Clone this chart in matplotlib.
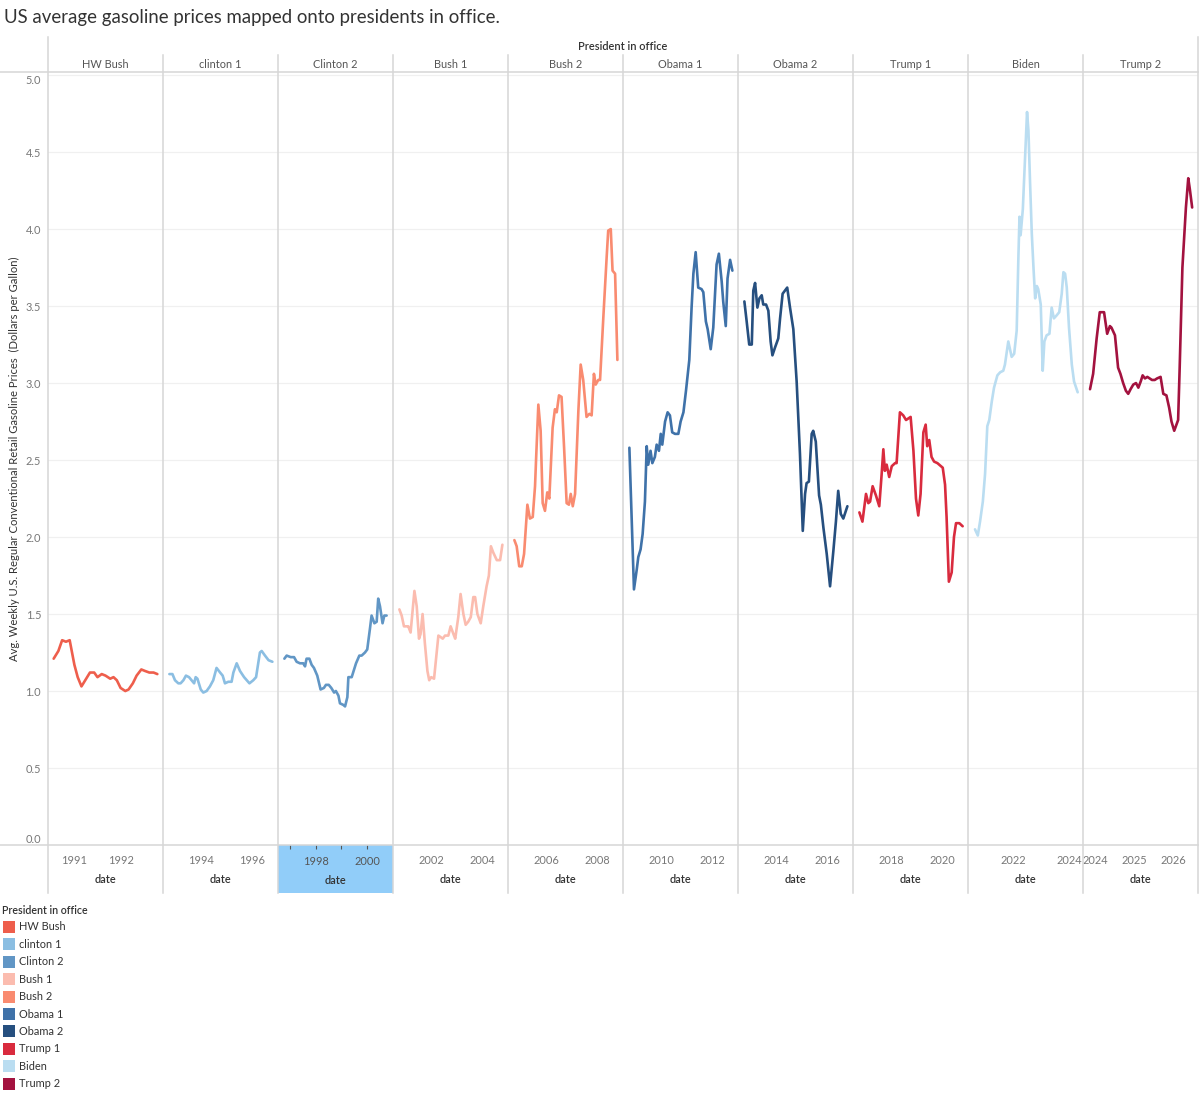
import numpy as np
import matplotlib
matplotlib.use("Agg")
import matplotlib.pyplot as plt
from matplotlib.lines import Line2D
from matplotlib.patches import Rectangle

plt.rcParams['font.family'] = ['Lato', 'DejaVu Sans']

title = "US average gasoline prices mapped onto presidents in office."
y_title = "Avg. Weekly U.S. Regular Conventional Retail Gasoline Prices  (Dollars per Gallon)"
header_title = "President in office"
x_label = "date"

presidents = ["HW Bush", "clinton 1", "Clinton 2", "Bush 1", "Bush 2",
              "Obama 1", "Obama 2", "Trump 1", "Biden", "Trump 2"]
colors = ["#EE5E4C", "#8BBEE2", "#6196C5", "#FBBCAF", "#F98B70",
          "#3F72A9", "#264F7F", "#D92B3E", "#BADDF1", "#A3123F"]

hw_bush_dates = [1990.57, 1990.67, 1990.75, 1990.83, 1990.91, 1991.01, 1991.08, 1991.16, 1991.26,
                 1991.34, 1991.43, 1991.50, 1991.59, 1991.67, 1991.77, 1991.84, 1991.91, 1991.99,
                 1992.09, 1992.16, 1992.25, 1992.33, 1992.43, 1992.51, 1992.60, 1992.69, 1992.77]
hw_bush_prices = [1.21, 1.26, 1.33, 1.32, 1.33, 1.17, 1.09, 1.03, 1.08, 1.12, 1.12, 1.09, 1.11, 1.10,
                  1.08, 1.09, 1.07, 1.02, 1.00, 1.01, 1.05, 1.10, 1.14, 1.13, 1.12, 1.12, 1.11]

clinton1_dates = [1992.76, 1992.88, 1992.98, 1993.11, 1993.20, 1993.31, 1993.41, 1993.53, 1993.63,
                  1993.73, 1993.79, 1993.86, 1993.99, 1994.09, 1994.22, 1994.35, 1994.48, 1994.61,
                  1994.75, 1994.85, 1994.94, 1995.07, 1995.20, 1995.27, 1995.40, 1995.53, 1995.69,
                  1995.90, 1996.05, 1996.16, 1996.31, 1996.38, 1996.51, 1996.65, 1996.80]
clinton1_prices = [1.11, 1.11, 1.07, 1.05, 1.05, 1.07, 1.10, 1.09, 1.07, 1.05, 1.09, 1.08, 1.01, 0.99,
                   1.00, 1.03, 1.07, 1.15, 1.12, 1.10, 1.05, 1.06, 1.06, 1.12, 1.18, 1.13, 1.09, 1.05,
                   1.07, 1.09, 1.25, 1.26, 1.23, 1.20, 1.19]

clinton2_dates = [1996.76, 1996.85, 1997.01, 1997.14, 1997.24, 1997.37, 1997.50, 1997.57, 1997.63,
                  1997.74, 1997.83, 1997.92, 1998.05, 1998.18, 1998.31, 1998.39, 1998.50, 1998.60,
                  1998.71, 1998.78, 1998.88, 1998.94, 1999.07, 1999.14, 1999.23, 1999.27, 1999.40,
                  1999.57, 1999.70, 1999.79, 1999.92, 2000.01, 2000.12, 2000.18, 2000.29, 2000.38,
                  2000.44, 2000.51, 2000.61, 2000.68, 2000.77]
clinton2_prices = [1.21, 1.23, 1.22, 1.22, 1.19, 1.18, 1.18, 1.16, 1.21, 1.21, 1.17, 1.15, 1.10, 1.01,
                   1.02, 1.04, 1.04, 1.02, 0.99, 1.00, 0.97, 0.92, 0.91, 0.90, 0.96, 1.09, 1.09, 1.18,
                   1.23, 1.23, 1.25, 1.27, 1.41, 1.49, 1.44, 1.45, 1.60, 1.55, 1.44, 1.49, 1.49]

bush1_dates = [2000.76, 2000.85, 2000.94, 2001.05, 2001.11, 2001.20, 2001.35, 2001.44, 2001.53,
               2001.59, 2001.67, 2001.76, 2001.86, 2001.93, 2002.01, 2002.12, 2002.29, 2002.38,
               2002.46, 2002.55, 2002.68, 2002.77, 2002.88, 2002.95, 2003.07, 2003.16, 2003.27,
               2003.36, 2003.46, 2003.56, 2003.66, 2003.73, 2003.82, 2003.95, 2004.05, 2004.18,
               2004.27, 2004.35, 2004.44, 2004.58, 2004.71, 2004.80]
bush1_prices = [1.53, 1.49, 1.42, 1.42, 1.42, 1.38, 1.65, 1.55, 1.34, 1.37, 1.50, 1.31, 1.13, 1.07,
                1.09, 1.08, 1.36, 1.35, 1.34, 1.36, 1.36, 1.42, 1.37, 1.34, 1.48, 1.63, 1.50, 1.43,
                1.45, 1.48, 1.61, 1.61, 1.50, 1.44, 1.55, 1.68, 1.75, 1.94, 1.90, 1.85, 1.85, 1.95]

bush2_dates = [2004.76, 2004.85, 2004.95, 2005.05, 2005.14, 2005.27, 2005.37, 2005.48, 2005.57,
               2005.61, 2005.70, 2005.79, 2005.87, 2005.96, 2006.05, 2006.13, 2006.26, 2006.35,
               2006.42, 2006.51, 2006.61, 2006.71, 2006.81, 2006.90, 2006.97, 2007.05, 2007.14,
               2007.27, 2007.36, 2007.46, 2007.59, 2007.70, 2007.79, 2007.88, 2007.95, 2008.05,
               2008.12, 2008.25, 2008.38, 2008.44, 2008.54, 2008.61, 2008.71, 2008.80]
bush2_prices = [1.98, 1.94, 1.81, 1.81, 1.89, 2.21, 2.12, 2.13, 2.33, 2.50, 2.86, 2.69, 2.22, 2.17,
                2.29, 2.25, 2.71, 2.83, 2.81, 2.92, 2.91, 2.58, 2.22, 2.21, 2.28, 2.20, 2.28, 2.82,
                3.12, 3.02, 2.78, 2.80, 2.79, 3.06, 2.99, 3.02, 3.02, 3.43, 3.82, 3.99, 4.00, 3.73,
                3.71, 3.15]

obama1_dates = [2008.76, 2008.94, 2009.05, 2009.11, 2009.20, 2009.28, 2009.37, 2009.44, 2009.50,
                2009.59, 2009.66, 2009.76, 2009.83, 2009.92, 2009.99, 2010.05, 2010.16, 2010.26,
                2010.35, 2010.44, 2010.55, 2010.68, 2010.77, 2010.88, 2010.98, 2011.11, 2011.20,
                2011.27, 2011.36, 2011.46, 2011.59, 2011.66, 2011.76, 2011.83, 2011.95, 2012.05,
                2012.18, 2012.27, 2012.38, 2012.44, 2012.54, 2012.61, 2012.71, 2012.80]
obama1_prices = [2.58, 1.66, 1.79, 1.87, 1.92, 2.02, 2.23, 2.59, 2.47, 2.56, 2.48, 2.52, 2.60, 2.56,
                 2.67, 2.60, 2.75, 2.81, 2.79, 2.68, 2.67, 2.67, 2.75, 2.81, 2.95, 3.15, 3.49, 3.71,
                 3.85, 3.62, 3.61, 3.59, 3.40, 3.35, 3.22, 3.36, 3.77, 3.84, 3.66, 3.53, 3.37, 3.68,
                 3.80, 3.73]

obama2_dates = [2012.76, 2012.85, 2012.95, 2013.05, 2013.11, 2013.18, 2013.27, 2013.35, 2013.44,
                2013.50, 2013.61, 2013.70, 2013.79, 2013.86, 2013.96, 2014.09, 2014.16, 2014.26,
                2014.35, 2014.44, 2014.55, 2014.68, 2014.81, 2014.94, 2015.05, 2015.14, 2015.20,
                2015.29, 2015.40, 2015.46, 2015.56, 2015.69, 2015.76, 2015.86, 2015.99, 2016.12,
                2016.25, 2016.35, 2016.44, 2016.54, 2016.64, 2016.80]
obama2_prices = [3.53, 3.40, 3.25, 3.25, 3.60, 3.65, 3.49, 3.55, 3.57, 3.51, 3.51, 3.47, 3.27, 3.18,
                 3.23, 3.29, 3.42, 3.58, 3.60, 3.62, 3.49, 3.35, 3.01, 2.54, 2.04, 2.28, 2.35, 2.36,
                 2.67, 2.69, 2.62, 2.27, 2.21, 2.06, 1.89, 1.68, 1.91, 2.10, 2.30, 2.15, 2.12, 2.20]

trump1_dates = [2016.76, 2016.88, 2017.02, 2017.11, 2017.18, 2017.28, 2017.41, 2017.54, 2017.63,
                2017.70, 2017.76, 2017.83, 2017.93, 2018.03, 2018.16, 2018.22, 2018.35, 2018.48,
                2018.59, 2018.77, 2018.88, 2018.98, 2019.07, 2019.16, 2019.27, 2019.36, 2019.42,
                2019.50, 2019.59, 2019.69, 2019.82, 2020.03, 2020.12, 2020.18, 2020.27, 2020.38,
                2020.47, 2020.55, 2020.68, 2020.81]
trump1_prices = [2.16, 2.10, 2.28, 2.22, 2.23, 2.33, 2.27, 2.20, 2.40, 2.57, 2.43, 2.47, 2.39, 2.46,
                 2.48, 2.48, 2.81, 2.79, 2.76, 2.78, 2.56, 2.25, 2.14, 2.28, 2.68, 2.73, 2.59, 2.63,
                 2.52, 2.49, 2.48, 2.45, 2.34, 2.13, 1.71, 1.77, 2.00, 2.09, 2.09, 2.07]

biden_dates = [2020.64, 2020.74, 2020.82, 2020.92, 2021.00, 2021.08, 2021.15, 2021.24, 2021.32,
               2021.44, 2021.54, 2021.65, 2021.71, 2021.83, 2021.89, 2021.95, 2022.04, 2022.13,
               2022.19, 2022.23, 2022.27, 2022.35, 2022.39, 2022.46, 2022.50, 2022.55, 2022.61,
               2022.67, 2022.73, 2022.79, 2022.85, 2022.90, 2022.99, 2023.06, 2023.12, 2023.20,
               2023.30, 2023.38, 2023.46, 2023.56, 2023.65, 2023.74, 2023.80, 2023.86, 2023.92,
               2024.00, 2024.10, 2024.18, 2024.31]
biden_prices = [2.05, 2.01, 2.10, 2.23, 2.41, 2.72, 2.76, 2.88, 2.97, 3.05, 3.07, 3.08, 3.12, 3.27,
                3.22, 3.17, 3.19, 3.34, 3.81, 4.08, 3.96, 4.13, 4.30, 4.59, 4.76, 4.64, 4.29, 3.97,
                3.75, 3.55, 3.63, 3.61, 3.51, 3.08, 3.27, 3.31, 3.32, 3.49, 3.42, 3.44, 3.46, 3.58,
                3.72, 3.71, 3.62, 3.36, 3.12, 3.01, 2.94]

trump2_dates = [2023.86, 2023.94, 2024.03, 2024.11, 2024.22, 2024.30, 2024.37, 2024.41, 2024.50,
                2024.58, 2024.64, 2024.71, 2024.78, 2024.84, 2024.90, 2024.97, 2025.04, 2025.10,
                2025.16, 2025.21, 2025.27, 2025.33, 2025.39, 2025.45, 2025.52, 2025.58, 2025.67,
                2025.74, 2025.82, 2025.89, 2025.95, 2026.02, 2026.12, 2026.16, 2026.23, 2026.32,
                2026.38, 2026.42, 2026.48]
trump2_prices = [2.96, 3.06, 3.29, 3.46, 3.46, 3.32, 3.37, 3.36, 3.31, 3.10, 3.06, 3.00, 2.95, 2.93,
                 2.96, 2.99, 3.00, 2.97, 3.01, 3.05, 3.03, 3.04, 3.03, 3.02, 3.02, 3.03, 3.04, 2.93,
                 2.92, 2.84, 2.75, 2.69, 2.76, 3.10, 3.75, 4.14, 4.33, 4.26, 4.14]

all_dates = [hw_bush_dates, clinton1_dates, clinton2_dates, bush1_dates, bush2_dates,
             obama1_dates, obama2_dates, trump1_dates, biden_dates, trump2_dates]
all_prices = [hw_bush_prices, clinton1_prices, clinton2_prices, bush1_prices, bush2_prices,
              obama1_prices, obama2_prices, trump1_prices, biden_prices, trump2_prices]

# per-panel axis ranges (independent date axes) and tick years
x_ranges = [(1990.45, 1992.89), (1992.51, 1997.02), (1996.51, 2001.02), (2000.51, 2005.02),
            (2004.51, 2009.02), (2008.51, 2013.02), (2012.51, 2017.02), (2016.51, 2021.02),
            (2020.39, 2024.50), (2023.68, 2026.63)]
x_ticks = [[1991, 1992], [1994, 1996], [1998, 2000], [2002, 2004], [2006, 2008],
           [2010, 2012], [2014, 2016], [2018, 2020], [2022, 2024], [2024, 2025, 2026]]
y_ticks = [0.0, 0.5, 1.0, 1.5, 2.0, 2.5, 3.0, 3.5, 4.0, 4.5, 5.0]
highlight_panel = 2

W, H = 1200, 1093
fig = plt.figure(figsize=(W / 100, H / 100), dpi=100)
fig.patch.set_facecolor("white")


def fx(x):
    return x / W


def fy(y):
    return 1 - y / H


LEFT, PW, TOP, BOT = 48, 115, 72, 845
LINE = "#d6d6d6"
TXT = "#333333"
TICK = "#777777"
FS = 7.9

axes = []
for i, name in enumerate(presidents):
    x0 = LEFT + i * PW
    ax = fig.add_axes([fx(x0), fy(BOT), PW / W, (BOT - TOP) / H])
    ax.plot(all_dates[i], all_prices[i], color=colors[i], lw=1.9,
            solid_joinstyle="round", solid_capstyle="round", zorder=3)
    ax.set_xlim(*x_ranges[i])
    ax.set_ylim(0, 5.02)
    for s in ax.spines.values():
        s.set_visible(False)
    ax.set_yticks(y_ticks)
    ax.yaxis.grid(True, color="#f0f0f0", lw=0.9, zorder=0)
    ax.set_axisbelow(True)
    ax.set_xticks(x_ticks[i])
    ax.set_xticklabels([str(t) for t in x_ticks[i]])
    ax.tick_params(axis="x", length=0, pad=7, labelsize=FS, labelcolor=TICK)
    ax.set_xlabel(x_label, fontsize=FS, color=TXT, labelpad=6, fontweight="semibold")
    if i == 0:
        ax.set_yticklabels([f"{v:.1f}" for v in y_ticks])
        ax.tick_params(axis="y", length=0, pad=5, labelsize=FS, labelcolor=TICK)
        labs = ax.get_yticklabels()
        labs[0].set_verticalalignment("bottom")
        labs[-1].set_verticalalignment("top")
        ax.set_ylabel(y_title, fontsize=8.1, color=TXT, labelpad=4)
    else:
        ax.tick_params(axis="y", length=0, labelleft=False)
    if i == highlight_panel:
        ax.set_xticks([1997, 1999], minor=True)
        ax.tick_params(axis="x", which="both", length=3, width=0.8, color="#555555")
        ax.tick_params(axis="x", which="major", pad=5, labelcolor="#555555")
    ax.patch.set_alpha(0)
    axes.append(ax)
    fig.text(fx(x0 + PW / 2), fy(64), name, ha="center", va="center",
             fontsize=FS, color="#555555")

# highlighted date header cell
fig.add_artist(Rectangle((fx(LEFT + highlight_panel * PW), fy(893)), PW / W, (893 - BOT) / H,
                         transform=fig.transFigure, facecolor="#91CDF9", edgecolor="none",
                         zorder=-1))

# frame lines
for yy in (TOP, BOT):
    fig.add_artist(Line2D([0, fx(1198)], [fy(yy), fy(yy)], transform=fig.transFigure,
                          color=LINE, lw=1.1))
for k in range(len(presidents) + 1):
    xx = LEFT + k * PW
    ytop = 37 if k in (0, len(presidents)) else 55
    fig.add_artist(Line2D([fx(xx), fx(xx)], [fy(ytop), fy(893)], transform=fig.transFigure,
                          color=LINE, lw=1.1))

fig.text(fx(4), fy(18), title, ha="left", va="center", fontsize=13.4, color=TXT)
fig.text(fx(623), fy(47), header_title, ha="center", va="center", fontsize=FS,
         color=TXT, fontweight="semibold")

# legend
fig.text(fx(2), fy(911), header_title, ha="left", va="center", fontsize=7.7,
         color=TXT, fontweight="semibold")
for k, (name, c) in enumerate(zip(presidents, colors)):
    yc = 927 + k * 17.4
    fig.add_artist(Rectangle((fx(3), fy(yc + 6)), 12 / W, 12 / H, transform=fig.transFigure,
                             facecolor=c, edgecolor="none"))
    fig.text(fx(19), fy(yc), name, ha="left", va="center", fontsize=FS, color=TXT)

fig.savefig("out.png", dpi=100, facecolor="white")
